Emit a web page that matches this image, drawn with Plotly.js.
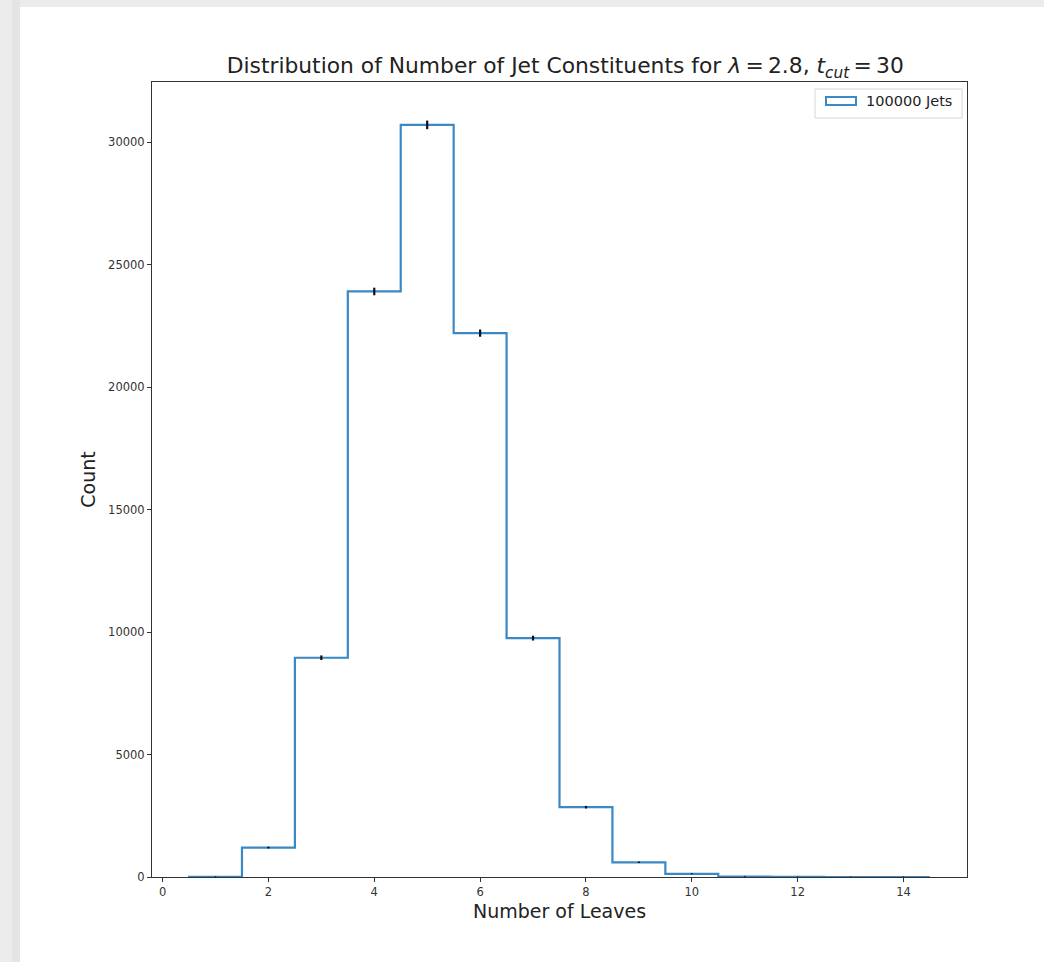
<!DOCTYPE html>
<html>
<head>
<meta charset="utf-8">
<script src="https://cdn.plot.ly/plotly-3.0.1.min.js"></script>
<style>
  html, body { margin: 0; padding: 0; width: 1044px; height: 962px; overflow: hidden;
    background: linear-gradient(to right, #ececec 0px, #ececec 12px, #e4e4e4 12px, #e4e4e4 20px, #ececec 20px); }
  #chart { position: absolute; left: 20px; top: 7px; width: 1024px; height: 955px; background: #fff; }
</style>
</head>
<body>
<div id="chart"></div>
<script>
// Histogram: number of leaves per jet (bin centres) and counts
const leaves = [1, 2, 3, 4, 5, 6, 7, 8, 9, 10, 11, 12, 13, 14];
const counts = [10, 1200, 8950, 23900, 30700, 22200, 9750, 2850, 600, 130, 20, 3, 1, 0];
const xTicks = [0, 2, 4, 6, 8, 10, 12, 14];
const yTicks = [0, 5000, 10000, 15000, 20000, 25000, 30000];
const legendLabel = '100000 Jets';

// Build step outline from bin edges (histtype="step")
const stepX = [leaves[0] - 0.5];
const stepY = [0];
leaves.forEach((c, i) => { stepX.push(c - 0.5); stepY.push(counts[i]); });
stepX.push(leaves[leaves.length - 1] + 0.5); stepY.push(counts[counts.length - 1]);

const errors = counts.map(v => Math.sqrt(v));

const blue = '#3a88c4';

const traces = [
  {
    type: 'scatter', mode: 'lines', x: stepX, y: stepY,
    line: { shape: 'hv', color: blue, width: 2.2 },
    showlegend: false, hoverinfo: 'skip'
  },
  {
    type: 'scatter', mode: 'markers', x: leaves, y: counts,
    marker: { size: 1.5, color: 'rgba(0,0,0,0.7)' },
    error_y: { type: 'data', array: errors, visible: true, color: '#111', thickness: 2.2, width: 0 },
    showlegend: false
  }
];

const fontFam = 'DejaVu Sans, sans-serif';
const axisCommon = {
  showgrid: false, zeroline: false, showline: true, mirror: true,
  linecolor: '#333', linewidth: 1,
  ticks: 'outside', ticklen: 4, tickwidth: 1, tickcolor: '#333',
  tickfont: { family: fontFam, size: 11.5, color: '#333' }
};

const layout = {
  width: 1024, height: 955,
  margin: { l: 132, r: 77, t: 75, b: 85 },
  paper_bgcolor: '#ffffff', plot_bgcolor: '#ffffff',
  font: { family: fontFam, color: '#222' },
  title: {
    text: 'Distribution of Number of Jet Constituents for <i>λ</i>\u2009=\u20092.8, <i>t</i><sub><i>cut</i></sub>\u2009=\u200930',
    font: { family: fontFam, size: 21.8, color: '#222' },
    x: 0.5325, xanchor: 'center', y: 0.9305, yanchor: 'bottom'
  },
  xaxis: Object.assign({}, axisCommon, {
    range: [-0.2, 15.2], tickvals: xTicks, ticktext: xTicks.map(String),
    title: { text: 'Number of Leaves', font: { family: fontFam, size: 19, color: '#222' }, standoff: 6 }
  }),
  yaxis: Object.assign({}, axisCommon, {
    range: [0, 32450], tickvals: yTicks, ticktext: yTicks.map(String),
    title: { text: 'Count', font: { family: fontFam, size: 19, color: '#222' }, standoff: 7 }
  }),
  showlegend: false,
  shapes: [
    { type: 'rect', xref: 'paper', yref: 'paper', x0: 0.8135, x1: 0.9939, y0: 0.9547, y1: 0.9912,
      line: { color: '#d6d6d6', width: 1 }, fillcolor: 'rgba(255,255,255,0.9)' },
    { type: 'rect', xref: 'paper', yref: 'paper', x0: 0.827, x1: 0.8638, y0: 0.9711, y1: 0.9811,
      line: { color: blue, width: 2 }, fillcolor: 'rgba(0,0,0,0)' }
  ],
  annotations: [
    { xref: 'paper', yref: 'paper', x: 0.874, y: 0.9761, xanchor: 'left', yanchor: 'middle',
      text: legendLabel, showarrow: false, font: { family: fontFam, size: 14.5, color: '#222' } }
  ]
};

Plotly.newPlot('chart', traces, layout, { displayModeBar: false, staticPlot: true });
</script>
</body>
</html>
